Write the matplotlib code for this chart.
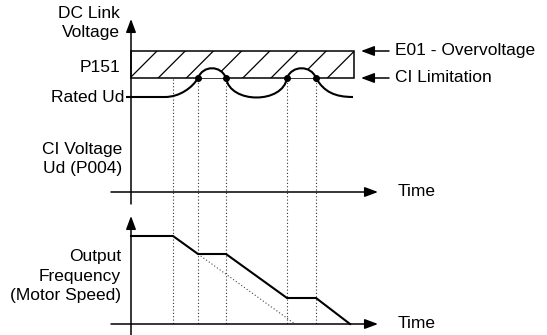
import matplotlib
matplotlib.use("Agg")
import matplotlib.pyplot as plt
import numpy as np
from matplotlib.path import Path
from matplotlib.patches import PathPatch, Rectangle

plt.rcParams['font.family'] = ['Liberation Sans', 'DejaVu Sans']

# ---- schematic values (figure pixel units, y downward) ----
axis_x = 131
t_end = 378
upper_axis_y = 192
lower_axis_y = 324
level_e01 = 51          # E01 - Overvoltage
level_ci = 78           # CI Limitation
level_peak = 69
level_rated = 97
band_right = 354

event_t = [173, 198, 226, 287, 316]          # dotted vertical markers
limit_pts_t = [198, 226, 287, 316]           # dots where Ud hits the CI limit

freq_t = [131, 173, 198, 226, 287, 316, 350]
freq_y = [236, 236, 254, 254, 298, 298, 324]
ramp_t = [198, 295]
ramp_y = [254, 324]

fig = plt.figure(figsize=(5.47, 3.35), dpi=100)
ax = fig.add_axes([0, 0, 1, 1])
ax.set_xlim(0, 547)
ax.set_ylim(335, 0)
ax.axis('off')

fs = 12.5
blk = 'black'

# ---- hatched band ----
band = Rectangle((axis_x, level_e01), band_right - axis_x, level_ci - level_e01,
                 fill=False, edgecolor=blk, lw=1.1, zorder=3)
ax.add_patch(band)
clip = Rectangle((axis_x, level_e01), band_right - axis_x, level_ci - level_e01,
                 transform=ax.transData, facecolor='none', edgecolor='none')
ax.add_patch(clip)
h = level_ci - level_e01
for xt in np.arange(157 - 28.2 * 2, band_right + 60, 28.2):
    ln, = ax.plot([xt, xt - h * 1.0], [level_e01, level_ci], color=blk, lw=0.9, zorder=2)
    ln.set_clip_path(clip)

# ---- Ud curve ----
verts = [(126, level_rated), (165, level_rated),
         (180, level_rated), (193, 87), (limit_pts_t[0], level_ci),
         (203, 65), (221, 65), (limit_pts_t[1], level_ci),
         (230, 104), (283, 104), (limit_pts_t[2], level_ci),
         (292, 65), (311, 65), (limit_pts_t[3], level_ci),
         (324, 92), (335, level_rated), (353, level_rated)]
codes = [Path.MOVETO, Path.LINETO] + [Path.CURVE4] * 15
path = Path(verts, codes)
ax.add_patch(PathPatch(path, facecolor='none', edgecolor=blk, lw=1.5,
                       zorder=5, capstyle='butt'))
# white-out hatch under the bumps
for a, b in [(0, 1), (2, 3)]:
    x0, x1 = limit_pts_t[a], limit_pts_t[b]
    bump = Path([(x0, level_ci), (x0 + 5, 65), (x1 - 5, 65), (x1, level_ci), (x0, level_ci)],
                [Path.MOVETO, Path.CURVE4, Path.CURVE4, Path.CURVE4, Path.CLOSEPOLY])
    ax.add_patch(PathPatch(bump, facecolor='white', edgecolor='none', zorder=4))

ax.plot(limit_pts_t, [level_ci] * len(limit_pts_t), 'o', color=blk, ms=4, zorder=6)

# ---- dotted event markers ----
for t in event_t:
    ax.plot([t, t], [level_ci + 1, lower_axis_y], color='#333333', lw=0.8,
            ls=(0, (1, 2)), zorder=1)

# ---- frequency ----
ax.plot(freq_t, freq_y, color=blk, lw=1.5, zorder=5, solid_joinstyle='miter')
ax.plot(ramp_t, ramp_y, color='#444444', lw=0.8, ls=(0, (1, 2)), zorder=4)

# ---- axes with arrows ----
ap = dict(arrowstyle='-|>,head_length=0.8,head_width=0.3', color=blk, lw=1.1,
          shrinkA=0, shrinkB=0, mutation_scale=10)
ax.annotate('', xy=(axis_x, 19), xytext=(axis_x, 204), arrowprops=ap)
ax.annotate('', xy=(axis_x, 216), xytext=(axis_x, 335), arrowprops=ap)
ax.annotate('', xy=(t_end, upper_axis_y), xytext=(111, upper_axis_y), arrowprops=ap)
ax.annotate('', xy=(t_end, lower_axis_y), xytext=(111, lower_axis_y), arrowprops=ap)
ax.annotate('', xy=(361, level_e01), xytext=(389, level_e01), arrowprops=ap)
ax.annotate('', xy=(361, level_ci), xytext=(389, level_ci), arrowprops=ap)

# ---- labels ----
def lab(x, y, s, ha='right'):
    ax.text(x, y, s, ha=ha, va='center', fontsize=fs, color=blk, multialignment='right',
            linespacing=1.38)

lab(120, 23, 'DC Link\nVoltage')
lab(120, 67, 'P151')
lab(124, 97, 'Rated Ud')
lab(122, 159, 'CI Voltage\nUd (P004)')
lab(121, 276, 'Output\nFrequency\n(Motor Speed)')
lab(398, upper_axis_y, 'Time', ha='left')
lab(398, lower_axis_y, 'Time', ha='left')
lab(395, level_e01, 'E01 - Overvoltage', ha='left')
lab(395, level_ci, 'CI Limitation', ha='left')

fig.savefig('out.png', dpi=100)
